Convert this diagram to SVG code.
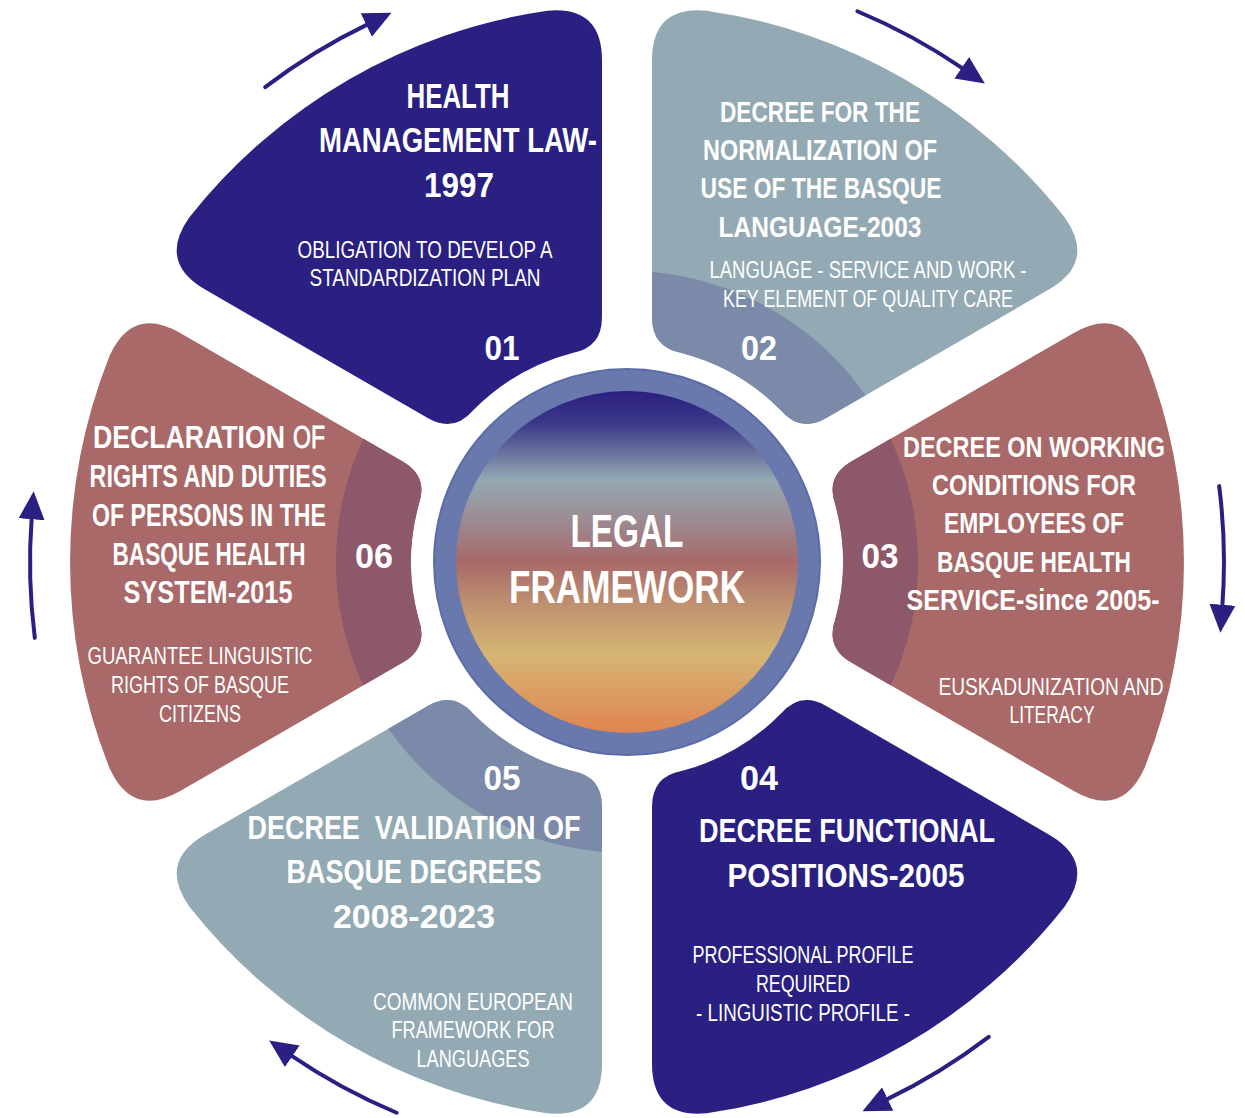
<svg xmlns="http://www.w3.org/2000/svg" xmlns:xlink="http://www.w3.org/1999/xlink" width="1245" height="1118" viewBox="0 0 1245 1118">
<style>
.t{font-family:"Liberation Sans Narrow","Liberation Sans","DejaVu Sans Condensed",sans-serif;fill:#ffffff;text-anchor:middle}
.b{font-weight:bold}
.sub{font-size:23px}
.num{font-size:35px;font-weight:bold}
.navy{fill:#2A2082}
.gray{fill:#93A9B3}
.red{fill:#A86968}
.grayS{fill:#7B8AA8}
.redS{fill:#8E586B}
.arrow{fill:none;stroke:#2A2082;stroke-width:4;stroke-linecap:round;marker-end:url(#head)}
</style>
<defs>
<marker id="head" markerUnits="userSpaceOnUse" markerWidth="28" markerHeight="26" viewBox="0 0 28 26" refX="2" refY="13" orient="auto">
<path d="M0,0 L28,13 L0,26 Z" fill="#2A2082"/>
</marker>
<path id="petal" d="M224.3,-100.6 L446.8,-229.1 Q494.4,-256.6 517.3,-206.6 A558,558 0 0 1 517.3,206.6 Q494.4,256.6 446.8,229.1 L224.3,100.6 Q198.3,85.6 208.3,57.3 A216,216 0 0 0 208.3,-57.3 Q198.3,-85.6 224.3,-100.6 Z"/>
<path id="shade" d="M224.3,-100.6 L263.6,-123.3 A291,291 0 0 1 263.6,123.3 L224.3,100.6 Q198.3,85.6 208.3,57.3 A216,216 0 0 0 208.3,-57.3 Q198.3,-85.6 224.3,-100.6 Z"/>
<linearGradient id="core" x1="0" y1="0" x2="0" y2="1">
<stop offset="0" stop-color="#2A1F80"/>
<stop offset="0.1" stop-color="#3D3A8A"/>
<stop offset="0.26" stop-color="#94A9B3"/>
<stop offset="0.38" stop-color="#9C8A92"/>
<stop offset="0.5" stop-color="#A8696A"/>
<stop offset="0.64" stop-color="#C29670"/>
<stop offset="0.77" stop-color="#D6B574"/>
<stop offset="1" stop-color="#E0854F"/>
</linearGradient>
</defs>

<g id="connectors">
<path class="arrow" d="M265.2,87.1 A597,597 0 0 1 368.1,24.1"/>
<path class="arrow" transform="rotate(60 627 562)" d="M265.2,87.1 A597,597 0 0 1 368.1,24.1"/>
<path class="arrow" transform="rotate(120 627 562)" d="M265.2,87.1 A597,597 0 0 1 368.1,24.1"/>
<path class="arrow" transform="rotate(180 627 562)" d="M265.2,87.1 A597,597 0 0 1 368.1,24.1"/>
<path class="arrow" transform="rotate(240 627 562)" d="M265.2,87.1 A597,597 0 0 1 368.1,24.1"/>
<path class="arrow" transform="rotate(300 627 562)" d="M265.2,87.1 A597,597 0 0 1 368.1,24.1"/>
</g>

<g id="node01">
<use xlink:href="#petal" class="navy" transform="translate(627 562) rotate(-120)"/>
<text class="t b" font-size="35" x="458" y="108" textLength="103" lengthAdjust="spacingAndGlyphs">HEALTH</text>
<text class="t b" font-size="35" x="458" y="152" textLength="278" lengthAdjust="spacingAndGlyphs">MANAGEMENT LAW-</text>
<text class="t b" font-size="35" x="459" y="197" textLength="70" lengthAdjust="spacingAndGlyphs">1997</text>
<text class="t sub" x="425" y="258" textLength="255" lengthAdjust="spacingAndGlyphs">OBLIGATION TO DEVELOP A</text>
<text class="t sub" x="425" y="286" textLength="231" lengthAdjust="spacingAndGlyphs">STANDARDIZATION PLAN</text>
<text class="t num" x="502" y="360" textLength="35" lengthAdjust="spacingAndGlyphs">01</text>
</g>

<g id="node02">
<use xlink:href="#petal" class="gray" transform="translate(627 562) rotate(-60)"/>
<use xlink:href="#shade" class="grayS" transform="translate(627 562) rotate(-60)"/>
<text class="t b" font-size="29" x="820" y="122" textLength="200" lengthAdjust="spacingAndGlyphs">DECREE FOR THE</text>
<text class="t b" font-size="29" x="820" y="160" textLength="234" lengthAdjust="spacingAndGlyphs">NORMALIZATION OF</text>
<text class="t b" font-size="29" x="821" y="198" textLength="241" lengthAdjust="spacingAndGlyphs">USE OF THE BASQUE</text>
<text class="t b" font-size="29" x="820" y="237" textLength="203" lengthAdjust="spacingAndGlyphs">LANGUAGE-2003</text>
<text class="t sub" x="868" y="278" textLength="317" lengthAdjust="spacingAndGlyphs">LANGUAGE - SERVICE AND WORK -</text>
<text class="t sub" x="868" y="307" textLength="290" lengthAdjust="spacingAndGlyphs">KEY ELEMENT OF QUALITY CARE</text>
<text class="t num" x="759" y="360" textLength="36" lengthAdjust="spacingAndGlyphs">02</text>
</g>

<g id="node03">
<use xlink:href="#petal" class="red" transform="translate(627 562)"/>
<use xlink:href="#shade" class="redS" transform="translate(627 562)"/>
<text class="t b" font-size="29" x="1034" y="457" textLength="262" lengthAdjust="spacingAndGlyphs">DECREE ON WORKING</text>
<text class="t b" font-size="29" x="1034" y="495" textLength="204" lengthAdjust="spacingAndGlyphs">CONDITIONS FOR</text>
<text class="t b" font-size="29" x="1034" y="533" textLength="180" lengthAdjust="spacingAndGlyphs">EMPLOYEES OF</text>
<text class="t b" font-size="29" x="1034" y="572" textLength="194" lengthAdjust="spacingAndGlyphs">BASQUE HEALTH</text>
<text class="t b" font-size="29" x="1033" y="610" textLength="253" lengthAdjust="spacingAndGlyphs">SERVICE-since 2005-</text>
<text class="t sub" x="1051" y="695" textLength="225" lengthAdjust="spacingAndGlyphs">EUSKADUNIZATION AND</text>
<text class="t sub" x="1052" y="723" textLength="85" lengthAdjust="spacingAndGlyphs">LITERACY</text>
<text class="t num" x="880" y="568" textLength="37" lengthAdjust="spacingAndGlyphs">03</text>
</g>

<g id="node04">
<use xlink:href="#petal" class="navy" transform="translate(627 562) rotate(60)"/>
<text class="t num" x="759" y="790" textLength="38" lengthAdjust="spacingAndGlyphs">04</text>
<text class="t b" font-size="34" x="847" y="842" textLength="296" lengthAdjust="spacingAndGlyphs">DECREE FUNCTIONAL</text>
<text class="t b" font-size="34" x="846" y="887" textLength="237" lengthAdjust="spacingAndGlyphs">POSITIONS-2005</text>
<text class="t sub" x="803" y="963" textLength="221" lengthAdjust="spacingAndGlyphs">PROFESSIONAL PROFILE</text>
<text class="t sub" x="803" y="992" textLength="94" lengthAdjust="spacingAndGlyphs">REQUIRED</text>
<text class="t sub" x="803" y="1021" textLength="214" lengthAdjust="spacingAndGlyphs">- LINGUISTIC PROFILE -</text>
</g>

<g id="node05">
<use xlink:href="#petal" class="gray" transform="translate(627 562) rotate(120)"/>
<use xlink:href="#shade" class="grayS" transform="translate(627 562) rotate(120)"/>
<text class="t num" x="502" y="790" textLength="37" lengthAdjust="spacingAndGlyphs">05</text>
<text class="t b" font-size="33" x="414" y="839" textLength="333" lengthAdjust="spacingAndGlyphs" style="white-space:pre">DECREE  VALIDATION OF</text>
<text class="t b" font-size="33" x="414" y="883" textLength="255" lengthAdjust="spacingAndGlyphs">BASQUE DEGREES</text>
<text class="t b" font-size="33" x="414" y="928" textLength="162" lengthAdjust="spacingAndGlyphs">2008-2023</text>
<text class="t sub" x="473" y="1010" textLength="200" lengthAdjust="spacingAndGlyphs">COMMON EUROPEAN</text>
<text class="t sub" x="473" y="1038" textLength="163" lengthAdjust="spacingAndGlyphs">FRAMEWORK FOR</text>
<text class="t sub" x="473" y="1067" textLength="113" lengthAdjust="spacingAndGlyphs">LANGUAGES</text>
</g>

<g id="node06">
<use xlink:href="#petal" class="red" transform="translate(627 562) rotate(180)"/>
<use xlink:href="#shade" class="redS" transform="translate(627 562) rotate(180)"/>
<text class="t b" font-size="32" x="189" y="448" textLength="192" lengthAdjust="spacingAndGlyphs">DECLARATION</text>
<text class="t" font-size="31" x="309" y="448" textLength="32" lengthAdjust="spacingAndGlyphs" stroke="#ffffff" stroke-width="0.8">OF</text>
<text class="t b" font-size="32" x="208" y="487" textLength="237" lengthAdjust="spacingAndGlyphs">RIGHTS AND DUTIES</text>
<text class="t b" font-size="32" x="209" y="526" textLength="234" lengthAdjust="spacingAndGlyphs">OF PERSONS IN THE</text>
<text class="t b" font-size="32" x="209" y="565" textLength="193" lengthAdjust="spacingAndGlyphs">BASQUE HEALTH</text>
<text class="t b" font-size="32" x="208" y="603" textLength="169" lengthAdjust="spacingAndGlyphs">SYSTEM-2015</text>
<text class="t sub" x="200" y="664" textLength="225" lengthAdjust="spacingAndGlyphs">GUARANTEE LINGUISTIC</text>
<text class="t sub" x="200" y="693" textLength="178" lengthAdjust="spacingAndGlyphs">RIGHTS OF BASQUE</text>
<text class="t sub" x="200" y="722" textLength="82" lengthAdjust="spacingAndGlyphs">CITIZENS</text>
<text class="t num" x="374" y="568" textLength="38" lengthAdjust="spacingAndGlyphs">06</text>
</g>

<g id="center">
<circle cx="627" cy="562" r="193" fill="#6979AE" stroke="#5C6CA6" stroke-width="2"/>
<circle cx="627" cy="562" r="171" fill="url(#core)"/>
<text class="t b" font-size="46" x="627" y="547" textLength="113" lengthAdjust="spacingAndGlyphs">LEGAL</text>
<text class="t b" font-size="46" x="627" y="603" textLength="236" lengthAdjust="spacingAndGlyphs">FRAMEWORK</text>
</g>
</svg>
